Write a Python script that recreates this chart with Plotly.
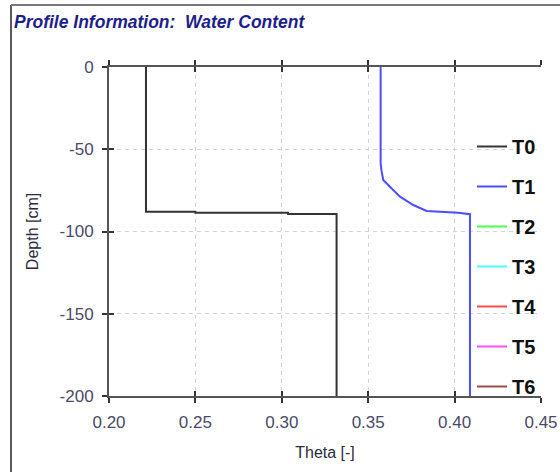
import plotly.graph_objects as go

# ---- data ----
t0_theta = [0.2214, 0.2214, 0.2500, 0.2500, 0.3036, 0.3036, 0.3317, 0.3317]
t0_depth = [0, -88.0, -88.0, -88.6, -88.6, -89.4, -89.4, -200]

t1_theta = [0.3572, 0.3572, 0.3577, 0.3587, 0.3626, 0.3684, 0.3761, 0.3838, 0.4021, 0.4089, 0.4089]
t1_depth = [0, -58.5, -63.0, -68.7, -72.8, -78.8, -83.9, -87.5, -88.6, -89.5, -200]

series_names = ["T0", "T1", "T2", "T3", "T4", "T5", "T6"]
series_colors = ["#333333", "#4d4dff", "#4dff4d", "#4dffff", "#ff4d4d", "#ff4dff", "#a04848"]

x_ticks = [0.20, 0.25, 0.30, 0.35, 0.40, 0.45]
x_labels = ["0.20", "0.25", "0.30", "0.35", "0.40", "0.45"]
y_ticks = [0, -50, -100, -150, -200]
y_labels = ["0", "-50", "-100", "-150", "-200"]

x_range = [0.20, 0.45]
y_range = [-200, 0]

W, H = 560, 472
ML, MR, MT, MB = 109, 19, 67, 76
PW, PH = W - ML - MR, H - MT - MB

fig = go.Figure()
data = {"T0": (t0_theta, t0_depth), "T1": (t1_theta, t1_depth)}
for name, color in zip(series_names, series_colors):
    xs, ys = data.get(name, ([None], [None]))
    fig.add_trace(go.Scatter(x=xs, y=ys, mode="lines", name="<b>" + name + "</b>", legendgroup=name,
                             line=dict(color=color, width=2), hoverinfo="skip"))

# dummy trace for the overlay axes (inside tick halves)
fig.add_trace(go.Scatter(x=[None], y=[None], xaxis="x2", yaxis="y2", showlegend=False, hoverinfo="skip"))

FONT = "Liberation Sans, Arial, sans-serif"
tickfont = dict(family=FONT, size=17, color="#4a4a68")
titlefont = dict(family=FONT, size=16, color="#2a2a3a")

fig.update_layout(
    width=W, height=H,
    margin=dict(l=ML, r=MR, t=MT, b=MB, autoexpand=False),
    paper_bgcolor="white", plot_bgcolor="white",
    title=dict(text="<b><i>Profile Information:&nbsp;&nbsp;Water Content</i></b>",
               font=dict(family=FONT, size=17.5, color="#1e1e8a"),
               xref="container", yref="container", x=14 / W, xanchor="left",
               y=1 - 22 / H, yanchor="middle"),
    xaxis=dict(range=x_range, tickvals=x_ticks, ticktext=x_labels, showgrid=True,
               gridcolor="#d4d4d4", griddash="4px,4px", gridwidth=1,
               showline=True, linecolor="#555", linewidth=2, mirror="ticks",
               ticks="outside", ticklen=5, tickwidth=2, tickcolor="#333",
               tickfont=tickfont, ticklabelstandoff=5, zeroline=False,
               title=dict(text="Theta [-]", font=titlefont, standoff=15)),
    yaxis=dict(range=y_range, tickvals=y_ticks, ticktext=y_labels, showgrid=True,
               gridcolor="#d4d4d4", griddash="4px,4px", gridwidth=1,
               showline=True, linecolor="#555", linewidth=2, mirror=False,
               ticks="outside", ticklen=5, tickwidth=2, tickcolor="#333",
               tickfont=tickfont, ticklabelstandoff=5, zeroline=False,
               title=dict(text="Depth [cm]", font=titlefont, standoff=17)),
    xaxis2=dict(range=x_range, tickvals=x_ticks, overlaying="x", anchor="y", side="bottom",
                showgrid=False, showline=False, zeroline=False, showticklabels=False,
                ticks="inside", ticklen=5, tickwidth=2, tickcolor="#333", mirror="ticks"),
    yaxis2=dict(range=y_range, tickvals=y_ticks, overlaying="y", anchor="x", side="left",
                showgrid=False, showline=False, zeroline=False, showticklabels=False,
                ticks="inside", ticklen=5, tickwidth=2, tickcolor="#333"),
    legend=dict(xref="container", yref="paper", x=472 / W, xanchor="left",
                y=(MT + PH - 127) / PH, yanchor="top",
                bgcolor="rgba(0,0,0,0)", tracegroupgap=11,
                font=dict(family=FONT, size=20, color="#111"),
                itemwidth=30),
    showlegend=True,
    shapes=[
        dict(type="line", xref="paper", yref="paper",
             x0=(11 - ML) / PW, x1=(11 - ML) / PW, y0=(MT + PH - 5) / PH, y1=(MT + PH - H) / PH,
             line=dict(color="#222", width=1.5)),
        dict(type="line", xref="paper", yref="paper",
             x0=(11 - ML) / PW, x1=(W - ML) / PW, y0=(MT + PH - 5) / PH, y1=(MT + PH - 5) / PH,
             line=dict(color="#777", width=2)),
    ],
)

fig.write_html("out.html")
